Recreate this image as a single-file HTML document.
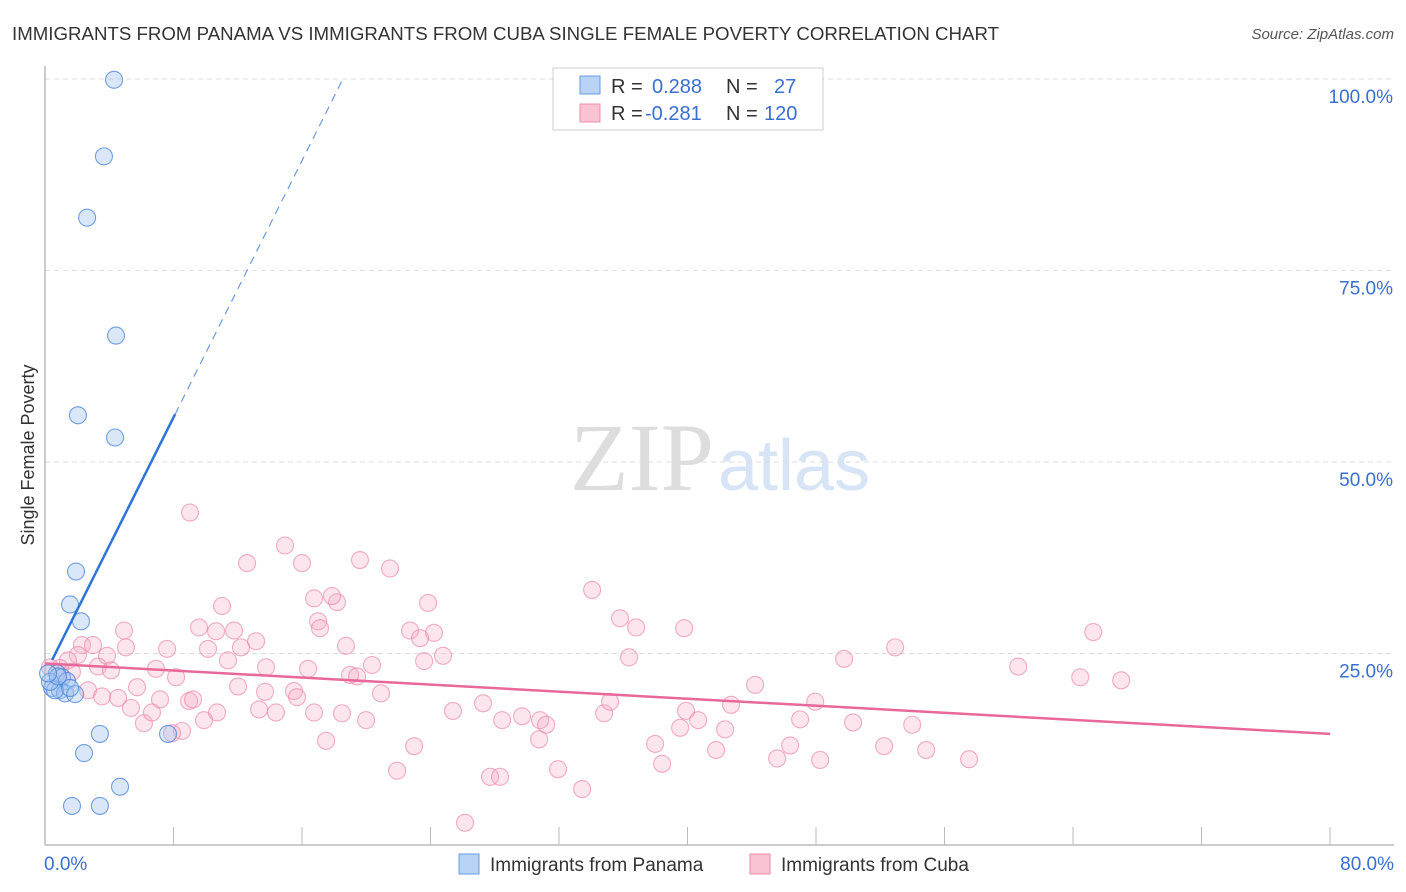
<!DOCTYPE html>
<html><head><meta charset="utf-8"><style>
body{margin:0;background:#fff;font-family:"Liberation Sans",sans-serif;}
#wrap{position:relative;width:1406px;height:892px;overflow:hidden;}
</style></head><body>
<div id="wrap">
<svg id="svg" width="1406" height="892" xmlns="http://www.w3.org/2000/svg">
<text x="12" y="40" font-size="18" fill="#333" textLength="987" lengthAdjust="spacingAndGlyphs">IMMIGRANTS FROM PANAMA VS IMMIGRANTS FROM CUBA SINGLE FEMALE POVERTY CORRELATION CHART</text>
<text x="1394" y="39" font-size="15" fill="#555" font-style="italic" text-anchor="end">Source: ZipAtlas.com</text>
<text x="714" y="490" font-size="96" fill="#ddd" font-family="Liberation Serif,serif" text-anchor="end">ZIP</text>
<text x="718" y="490" font-size="72" fill="#d6e4f5">atlas</text>
<text transform="translate(34,455) rotate(-90)" font-size="18" fill="#333" text-anchor="middle">Single Female Poverty</text>
<g id="grid"></g><g id="axes"></g><g id="pts"></g><g id="lines"></g>
<g>
<rect x="553" y="68" width="270" height="62" fill="#fff" stroke="#ccc"/>
<rect x="580" y="76" width="20" height="18" fill="#b8d3f5" stroke="#6a9be0"/>
<rect x="580" y="104" width="20" height="18" fill="#f9c3d3" stroke="#ec8fae"/>
<text x="611" y="93" font-size="20" fill="#333">R = </text><text x="652" y="93" font-size="20" fill="#3a6fd0">0.288</text>
<text x="726" y="93" font-size="20" fill="#333">N = </text><text x="774" y="93" font-size="20" fill="#3a6fd0">27</text>
<text x="611" y="120" font-size="20" fill="#333">R = </text><text x="645" y="120" font-size="20" fill="#3a6fd0">-0.281</text>
<text x="726" y="120" font-size="20" fill="#333">N = </text><text x="764" y="120" font-size="20" fill="#3a6fd0">120</text>
</g>
<g>
<rect x="459" y="854" width="20" height="20" fill="#b8d3f5" stroke="#6a9be0"/>
<text x="490" y="871" font-size="19" fill="#333">Immigrants from Panama</text>
<rect x="750" y="854" width="20" height="20" fill="#f9c3d3" stroke="#ec8fae"/>
<text x="781" y="871" font-size="19" fill="#333">Immigrants from Cuba</text>
</g>
<text x="44" y="870" font-size="19" fill="#3a6fd0">0.0%</text>
<text x="1394" y="870" font-size="19" fill="#3a6fd0" text-anchor="end">80.0%</text>
</svg>
</div>
<script>
const yTicks=[25,50,75,100];
const yTickLabels=["25.0%","50.0%","75.0%","100.0%"];
const panamaX=[4.3,3.67,2.62,4.42,2.05,4.36,1.93,1.56,2.24,0.75,1.06,1.37,0.44,0.93,1.25,1.87,0.62,0.31,0.81,3.42,2.43,7.66,4.67,1.68,3.42,1.56,0.19];
const panamaY=[99.9,89.9,81.9,66.5,56.1,53.2,35.7,31.4,29.2,22.4,21.9,21.4,20.5,20.2,19.8,19.7,20.2,21.3,22.0,14.5,12.0,14.5,7.6,5.1,5.1,20.5,22.4];
const cubaX=[9.03,14.94,19.61,21.48,12.58,16.0,34.06,11.02,16.75,18.18,17.87,23.85,4.92,7.6,9.59,11.77,10.65,13.14,17.0,17.12,18.74,22.73,24.22,23.35,24.78,35.8,36.8,39.79,65.26,52.93,49.75,36.36,2.3,2.99,2.05,3.86,5.04,10.15,11.39,12.2,13.76,16.38,20.36,23.6,60.59,64.45,67.0,3.3,4.11,6.91,8.16,12.02,13.7,15.5,18.99,19.43,20.92,44.21,5.73,2.68,3.55,4.55,5.35,7.16,8.97,9.22,10.71,13.33,14.38,15.69,16.75,18.49,19.99,25.4,27.27,28.46,29.7,30.82,31.2,34.81,35.18,39.91,40.66,42.71,47.01,47.95,50.31,53.99,6.16,6.66,9.9,8.53,7.91,17.5,22.98,30.76,37.98,39.54,42.34,46.39,41.78,45.58,48.26,52.24,54.86,57.53,21.92,31.94,38.42,27.71,28.33,33.44,26.15,1.43,0.93,1.68,0.31];
const cubaY=[43.4,39.1,37.2,36.1,36.8,36.8,33.3,31.2,32.2,31.7,32.5,31.6,28.0,25.6,28.4,28.0,27.9,26.6,29.2,28.3,26.0,28.0,27.7,27.0,24.7,29.6,28.4,28.3,27.8,25.8,24.3,24.5,26.1,26.1,24.8,24.7,25.8,25.6,24.1,25.8,23.2,23.0,23.5,24.0,23.3,21.9,21.5,23.3,22.8,23.0,21.9,20.7,20.0,20.1,22.2,22.0,19.8,20.9,20.6,20.2,19.4,19.2,17.9,19.0,18.8,19.0,17.3,17.7,17.3,19.3,17.3,17.2,16.3,17.5,18.5,16.3,16.8,16.3,15.7,17.2,18.7,17.5,16.3,18.3,16.4,18.7,16.0,15.7,15.9,17.3,16.3,14.9,14.6,13.6,12.9,13.8,13.2,15.3,15.1,13.0,12.4,11.3,11.1,12.9,12.4,11.2,9.7,9.9,10.6,8.9,8.9,7.3,2.9,24.1,23.1,22.6,23.2];
const panamaFit=[22.3,4.19];
const cubaFit=[23.7,-0.115];
const NS="http://www.w3.org/2000/svg";
const X0=45,X1=1330,Y0=845,Ytop=79;
const xs=v=>X0+(X1-X0)*v/80;
const ys=v=>Y0-(Y0-Ytop)*v/100;
function mk(tag,attrs,parent){const e=document.createElementNS(NS,tag);for(const k in attrs)e.setAttribute(k,attrs[k]);parent.appendChild(e);return e;}
const grid=document.getElementById('grid'),axes=document.getElementById('axes'),pts=document.getElementById('pts'),lines=document.getElementById('lines');
yTicks.forEach((t,i)=>{
  const l=mk('line',{x1:X0,x2:1394,y1:ys(t),y2:ys(t),stroke:'#ddd','stroke-dasharray':'5,4'},grid);
  
  
  const tx=mk('text',{x:1393,y:ys(t)+24,'font-size':19,fill:'#3a6fd0','text-anchor':'end'},grid);
  tx.textContent=yTickLabels[i];
  
  
});
const ax=mk('line',{x1:X0,x2:1394,y1:Y0,y2:Y0,stroke:'#bbb','stroke-width':1.5},axes);


const ay=mk('line',{x1:X0,x2:X0,y1:66,y2:Y0,stroke:'#bbb','stroke-width':1.5},axes);


for(let i=0;i<=10;i++){
  const tk=mk('line',{x1:xs(i*8),x2:xs(i*8),y1:Y0,y2:Y0-18,stroke:'#bbb'},axes);
  
  
}
cubaX.forEach((v,i)=>{
  const c=mk('circle',{cx:xs(v),cy:ys(cubaY[i]),r:8.5,fill:'rgba(246,170,195,0.3)',stroke:'rgba(234,130,165,0.65)','stroke-width':1.1},pts);
  
  
});
panamaX.forEach((v,i)=>{
  const c=mk('circle',{cx:xs(v),cy:ys(panamaY[i]),r:8.5,fill:'rgba(160,195,240,0.4)',stroke:'rgba(70,130,215,0.75)','stroke-width':1.1},pts);
  
  
});
const cl=mk('line',{x1:xs(0),y1:ys(cubaFit[0]),x2:xs(80),y2:ys(cubaFit[0]+cubaFit[1]*80),stroke:'#e8689a','stroke-width':2.5},lines);


const pS=0.44,pE=8.1,pD=(100-panamaFit[0])/panamaFit[1];
const pl=mk('line',{x1:xs(pS),y1:ys(panamaFit[0]+panamaFit[1]*pS),x2:xs(pE),y2:ys(panamaFit[0]+panamaFit[1]*pE),stroke:'#2f74d6','stroke-width':2.5},lines);


const pd=mk('line',{x1:xs(pE),y1:ys(panamaFit[0]+panamaFit[1]*pE),x2:xs(pD),y2:ys(100),stroke:'#6a9be0','stroke-width':1.2,'stroke-dasharray':'8,6'},lines);


</script>
</body></html>
